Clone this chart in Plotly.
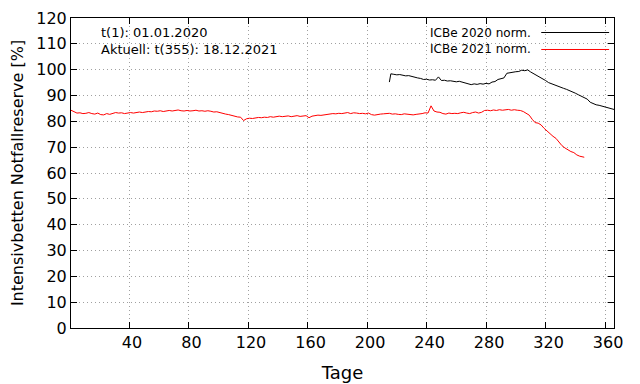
import plotly.graph_objects as go

# ---- data ----
red_days = list(range(1, 346, 2)) + [346]
red_values = [
    84.3, 83.6, 83.2, 83.3, 83.0, 83.1, 83.4, 83.0, 82.8, 83.2,
    82.6, 82.5, 83.0, 82.7, 83.2, 83.4, 83.2, 83.3, 83.0, 83.3,
    83.4, 83.2, 83.5, 83.6, 83.4, 83.6, 83.8, 83.7, 84.0, 83.9,
    84.1, 83.8, 84.0, 84.2, 84.0, 84.3, 84.4, 84.1, 84.0, 84.2,
    84.0, 84.1, 84.3, 84.0, 84.1, 83.9, 84.1, 83.9, 83.6, 83.7,
    83.3, 83.0, 82.8, 82.6, 82.2, 82.0, 81.7, 81.6, 80.3, 81.0,
    81.2, 81.1, 81.3, 81.5, 81.4, 81.6, 81.5, 81.8, 81.6, 81.7,
    82.0, 81.8, 81.9, 82.1, 81.8, 82.0, 82.2, 81.9, 82.0, 82.2,
    81.4, 82.0, 82.2, 82.4, 82.3, 82.5, 82.6, 82.8, 83.0, 82.9,
    83.1, 83.0, 83.2, 83.4, 83.0, 83.3, 83.2, 83.0, 83.1, 82.9,
    83.2, 82.6, 82.4, 82.7, 82.8, 82.9, 83.0, 83.1, 82.8, 82.9,
    82.7, 82.6, 82.9, 82.8, 82.6, 82.5, 82.7, 82.8, 83.0, 83.3,
    83.2, 86.0, 84.0, 83.6, 83.5, 83.0, 82.8, 83.2, 83.0, 83.1,
    83.0, 83.3, 83.5, 83.2, 83.0, 83.4, 83.6, 83.2, 83.5, 84.2,
    84.3, 84.1, 84.4, 84.2, 84.5, 84.3, 84.4, 84.6, 84.3, 84.5,
    84.3, 84.2, 83.8, 83.0, 82.4, 80.8, 79.5, 79.3, 78.6, 77.3,
    76.2, 75.0, 74.2, 73.4, 71.8, 70.6, 69.7, 68.9, 68.3, 67.9,
    67.0, 66.5, 66.4,
    66.1,
]

black_days = [215] + list(range(216, 366, 2)) + [366]
black_values = [
    95.2,
    98.4, 98.2, 98.0, 98.1, 97.8, 97.6, 97.7, 97.3, 97.2, 96.8,
    96.6, 96.2, 96.3, 96.0, 96.1, 95.9, 97.2, 95.8, 95.9, 95.6,
    95.7, 95.4, 95.3, 95.5, 95.1, 94.8, 94.6, 94.2, 94.5, 94.3,
    94.6, 94.4, 94.7, 94.5, 95.2, 95.4, 96.2, 96.4, 96.8, 98.6,
    98.9, 99.0, 99.2, 99.3, 99.8, 99.6, 99.9, 99.1, 98.5, 97.9,
    97.0, 96.5, 95.8, 95.0, 94.5, 94.0, 93.6, 93.1, 92.8, 92.4,
    92.0, 91.4, 90.9, 90.3, 89.8, 89.3, 88.6, 87.4, 86.8, 86.4,
    86.2, 85.9, 85.6, 85.3, 85.0,
    84.6,
]

x_ticks = [40, 80, 120, 160, 200, 240, 280, 320, 360]
y_ticks = list(range(0, 121, 10))

series_names = ["ICBe 2020 norm.", "ICBe 2021 norm."]
info_lines = ["t(1): 01.01.2020", "Aktuell: t(355): 18.12.2021"]

FONT = "DejaVu Sans"

fig = go.Figure()
fig.add_trace(go.Scatter(x=black_days, y=black_values, mode="lines",
                         line=dict(color="black", width=1), name=series_names[0],
                         showlegend=False))
fig.add_trace(go.Scatter(x=red_days, y=red_values, mode="lines",
                         line=dict(color="#ff0000", width=1), name=series_names[1],
                         showlegend=False))

# manual gnuplot-style legend (text left, line sample right)
legend_rows = [0.9532, 0.8984]
for name, col, ypos in zip(series_names, ["black", "#ff0000"], legend_rows):
    fig.add_annotation(xref="paper", yref="paper", x=0.851, y=ypos, text=name,
                       showarrow=False, xanchor="right", yanchor="middle",
                       font=dict(family=FONT, size=12, color="black"))
    fig.add_shape(type="line", xref="paper", yref="paper", x0=0.866, x1=0.991,
                  y0=ypos, y1=ypos, line=dict(color=col, width=1))

for i, t in enumerate(info_lines):
    fig.add_annotation(xref="paper", yref="paper", x=0.052, y=0.952 - i * 0.053,
                       text=t, showarrow=False, xanchor="left", yanchor="middle",
                       font=dict(family=FONT, size=13, color="black"))

axis_common = dict(
    showline=True, linecolor="black", linewidth=1, mirror="allticks",
    ticks="inside", ticklen=6, tickcolor="black", tickwidth=1,
    showgrid=True, gridcolor="#a0a0a0", griddash="1px,3px", gridwidth=1,
    zeroline=False, tickfont=dict(family=FONT, size=16, color="black"),
    automargin=False,
)

fig.update_xaxes(range=[1, 366], tickvals=x_ticks, ticklabelshift=3,
                 title=dict(text="Tage", font=dict(family=FONT, size=18, color="black"),
                            standoff=15),
                 **axis_common)
fig.update_yaxes(range=[0, 120], tickvals=y_ticks,
                 title=dict(text="Intensivbetten Notfallreserve [%]",
                            font=dict(family=FONT, size=16, color="black"), standoff=8),
                 **axis_common)

fig.update_layout(
    width=640, height=384,
    margin=dict(l=71, r=26, t=18, b=56, autoexpand=False),
    paper_bgcolor="white", plot_bgcolor="white",
    font=dict(family=FONT, color="black"),
)

fig.write_html("out.html", config={"displayModeBar": False},
               post_script="document.body.style.margin='0px';")
